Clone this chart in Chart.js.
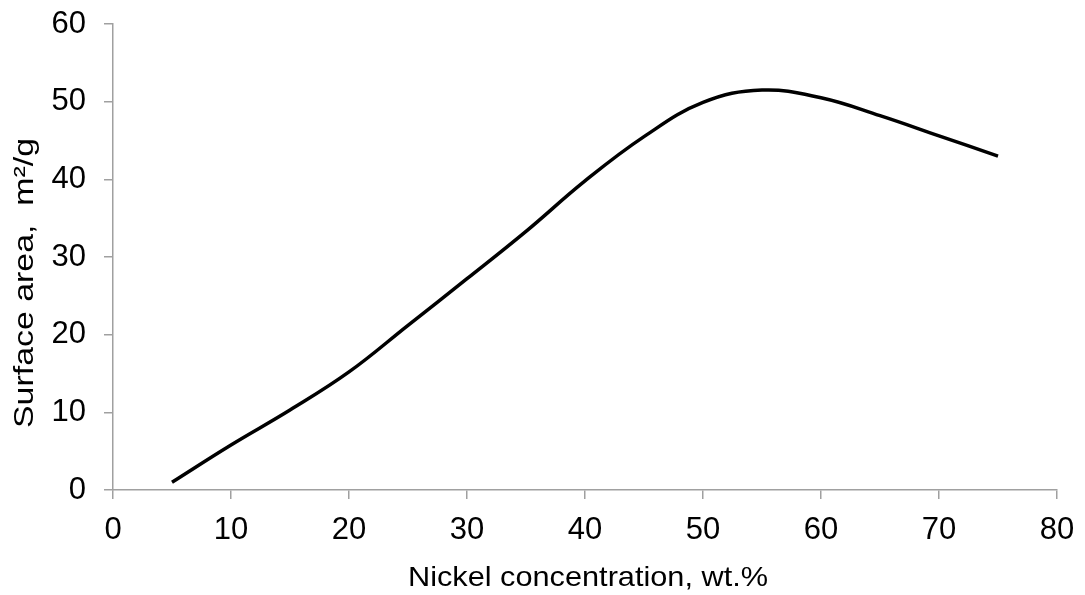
<!DOCTYPE html>
<html>
<head>
<meta charset="utf-8">
<script src="https://cdn.jsdelivr.net/npm/chart.js@4"></script>
<style>
  html, body { margin: 0; padding: 0; background: #fff; }
  #wrap { width: 1085px; height: 595px; }
</style>
</head>
<body>
<div id="wrap"><canvas id="chart"></canvas></div>
<script>
// концентрация никеля, мас.%
const nickel = [5, 10, 15, 20, 25, 30, 35, 40, 45, 50, 55, 60, 65, 70, 75];
// удельная поверхность, м2/г
const surfaceArea = [1.0, 5.8, 10.3, 15.2, 21.2, 27.2, 33.3, 39.8, 45.5, 49.9, 51.5, 50.5, 48.2, 45.6, 43.0];
const xTicks = [0, 10, 20, 30, 40, 50, 60, 70, 80];
const yTicks = [0, 10, 20, 30, 40, 50, 60];

const axisGray = '#a0a0a0';
const font = 'Liberation Sans, Arial, sans-serif';

// текст, растянутый вдоль строки до заданной длины (как в исходном рисунке)
function stretchedText(ctx, text, x, y, angle, length) {
    ctx.save();
    ctx.translate(x, y);
    ctx.rotate(angle);
    const w = ctx.measureText(text).width;
    ctx.scale(length / w, 1);
    ctx.fillText(text, 0, 0);
    ctx.restore();
}

// подписи осей рисуем сами
const axisTitles = {
    id: 'axisTitles',
    afterDraw(chart) {
        const ctx = chart.ctx;
        const area = chart.chartArea;
        ctx.save();
        ctx.fillStyle = '#000';
        ctx.font = '28px ' + font;
        ctx.textAlign = 'center';
        ctx.textBaseline = 'alphabetic';
        stretchedText(ctx, 'Nickel concentration, wt.%', (area.left + area.right) / 2 + 3, 586, 0, 360);
        stretchedText(ctx, 'Surface area,  m²/g', 33, 283, -Math.PI / 2, 290);
        ctx.restore();
    }
};

const points = nickel.map((x, i) => ({ x: x, y: surfaceArea[i] }));

new Chart(document.getElementById('chart'), {
    type: 'line',
    data: {
        datasets: [{
            data: points,
            borderColor: '#000',
            borderWidth: 3.5,
            pointRadius: 0,
            tension: 0.4,
            fill: false
        }]
    },
    options: {
        responsive: true,
        maintainAspectRatio: false,
        animation: false,
        layout: { padding: { top: 24, right: 28, left: 0, bottom: 0 } },
        plugins: {
            legend: { display: false },
            tooltip: { enabled: false }
        },
        scales: {
            x: {
                type: 'linear',
                min: 0,
                max: 80,
                afterBuildTicks: s => { s.ticks = xTicks.map(v => ({ value: v })); },
                afterFit: s => {
                    s.height = 105;
                    s.paddingLeft = 0;
                    s.paddingRight = 0;
                },
                grid: {
                    drawOnChartArea: false,
                    drawTicks: true,
                    tickLength: 9,
                    color: axisGray,
                    lineWidth: 1.5
                },
                border: { color: axisGray, width: 1.5 },
                ticks: {
                    color: '#000',
                    font: { family: font, size: 31 },
                    padding: 13,
                    maxRotation: 0
                }
            },
            y: {
                min: 0,
                max: 60,
                afterBuildTicks: s => { s.ticks = yTicks.map(v => ({ value: v })); },
                afterFit: s => {
                    s.width = 113;
                    s.paddingTop = 0;
                    s.paddingBottom = 0;
                },
                grid: {
                    drawOnChartArea: false,
                    drawTicks: true,
                    tickLength: 9,
                    color: axisGray,
                    lineWidth: 1.5
                },
                border: { color: axisGray, width: 1.5 },
                ticks: {
                    color: '#000',
                    font: { family: font, size: 31 },
                    padding: 18
                }
            }
        }
    },
    plugins: [axisTitles]
});
</script>
</body>
</html>
